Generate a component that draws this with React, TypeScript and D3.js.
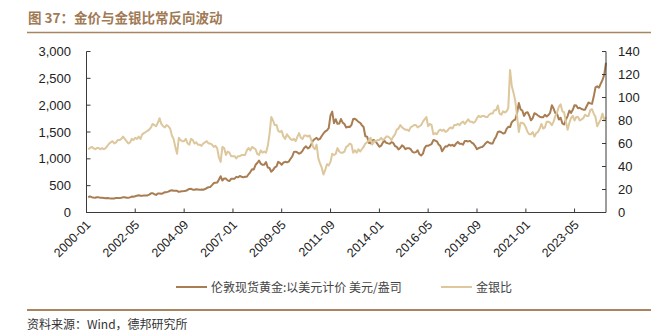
import React from "react";
import * as d3 from "d3";

// Monthly series, starting 2000-01 (month-end readings)
const startYear = 2000;

const goldPrice: number[] = [
  // 2000
  284, 300, 286, 280, 275, 285, 282, 275, 273, 270, 266, 272,
  // 2001
  266, 262, 263, 261, 272, 270, 268, 273, 283, 283, 276, 276,
  // 2002
  282, 296, 294, 302, 314, 321, 313, 310, 319, 317, 319, 333,
  // 2003
  357, 359, 340, 328, 355, 356, 351, 360, 379, 379, 389, 407,
  // 2004
  414, 405, 406, 404, 384, 392, 398, 400, 406, 420, 439, 442,
  // 2005
  424, 423, 434, 429, 422, 430, 424, 437, 456, 470, 476, 510,
  // 2006
  549, 555, 557, 610, 676, 596, 633, 632, 598, 585, 627, 629,
  // 2007
  631, 664, 655, 679, 667, 655, 665, 665, 712, 754, 806, 803,
  // 2008
  889, 922, 968, 909, 888, 889, 939, 839, 829, 760, 790, 840,
  // 2009
  858, 943, 924, 890, 928, 945, 934, 949, 996, 1043, 1127, 1134,
  // 2010
  1118, 1095, 1113, 1149, 1205, 1232, 1193, 1215, 1271, 1343, 1370, 1391,
  // 2011
  1356, 1372, 1424, 1473, 1510, 1529, 1572, 1810, 1880, 1665, 1739, 1652,
  // 2012
  1656, 1742, 1674, 1650, 1585, 1596, 1594, 1630, 1744, 1747, 1721, 1688,
  // 2013
  1671, 1627, 1593, 1420, 1414, 1300, 1287, 1347, 1349, 1316, 1275, 1225,
  // 2014
  1244, 1300, 1336, 1299, 1288, 1279, 1311, 1296, 1239, 1222, 1176, 1202,
  // 2015
  1251, 1227, 1179, 1198, 1199, 1181, 1131, 1117, 1125, 1159, 1086, 1062,
  // 2016
  1097, 1200, 1246, 1242, 1260, 1276, 1350, 1341, 1326, 1266, 1238, 1140,
  // 2017
  1192, 1234, 1231, 1266, 1246, 1260, 1236, 1283, 1315, 1280, 1283, 1265,
  // 2018
  1331, 1331, 1325, 1335, 1303, 1282, 1238, 1180, 1198, 1215, 1221, 1250,
  // 2019
  1291, 1320, 1301, 1286, 1284, 1359, 1413, 1500, 1510, 1495, 1471, 1480,
  // 2020
  1560, 1597, 1591, 1683, 1715, 1732, 1847, 2040, 1922, 1900, 1800, 1858,
  // 2021
  1867, 1808, 1718, 1760, 1850, 1834, 1807, 1785, 1775, 1777, 1821, 1790,
  // 2022
  1817, 1856, 2000, 1937, 1849, 1837, 1733, 1765, 1660, 1640, 1726, 1797,
  // 2023
  1898, 1855, 1913, 2000, 1992, 1943, 1950, 1929, 1916, 1916, 1985, 2050,
  // 2024
  2034, 2023, 2160, 2330, 2350, 2325, 2400, 2470, 2570, 2790,
];

const goldSilverRatio: number[] = [
  // 2000
  55, 56, 57, 56, 55, 56, 56, 55, 56, 55, 56, 58,
  // 2001
  60, 61, 62, 60, 61, 63, 63, 64, 66, 64, 62, 60,
  // 2002
  61, 64, 63, 65, 64, 66, 64, 68, 69, 70, 71, 72,
  // 2003
  74, 77, 76, 75, 78, 82, 77, 75, 74, 76, 75, 73,
  // 2004
  67, 64, 57, 51, 65, 63, 62, 62, 64, 60, 59, 64,
  // 2005
  63, 60, 61, 59, 59, 58, 60, 61, 62, 60, 60, 59,
  // 2006
  57, 58, 56, 48, 44, 57, 56, 50, 53, 52, 49, 49,
  // 2007
  49, 47, 49, 49, 50, 50, 50, 54, 56, 54, 57, 56,
  // 2008
  55, 51, 50, 54, 52, 53, 52, 58, 68, 83, 80, 76,
  // 2009
  76, 71, 70, 71, 66, 64, 68, 66, 64, 63, 64, 62,
  // 2010
  66, 69, 65, 64, 67, 67, 66, 67, 63, 57, 55, 59,
  // 2011
  47, 43, 39, 33, 37, 42, 41, 44, 51, 50, 51, 56,
  // 2012
  53, 52, 52, 53, 57, 58, 60, 59, 52, 54, 52, 55,
  // 2013
  53, 55, 57, 60, 61, 63, 65, 59, 62, 62, 63, 63,
  // 2014
  65, 63, 64, 66, 66, 65, 63, 66, 68, 72, 73, 76,
  // 2015
  74, 73, 72, 72, 71, 74, 75, 76, 76, 74, 75, 76,
  // 2016
  79, 81, 83, 75, 77, 76, 68, 69, 68, 71, 72, 71,
  // 2017
  72, 70, 71, 73, 74, 73, 76, 76, 77, 76, 78, 79,
  // 2018
  77, 79, 81, 79, 79, 78, 79, 82, 84, 83, 84, 84,
  // 2019
  83, 83, 85, 86, 86, 89, 89, 93, 86, 85, 88, 87,
  // 2020
  88, 91, 124, 110, 104, 97, 84, 70, 78, 78, 77, 74,
  // 2021
  70, 68, 68, 70, 66, 69, 70, 73, 77, 73, 74, 79,
  // 2022
  79, 78, 76, 79, 84, 87, 92, 94, 88, 87, 79, 72,
  // 2023
  78, 82, 84, 80, 83, 83, 80, 81, 82, 85, 84, 84,
  // 2024
  89, 90, 86, 83, 75, 78, 81, 86, 80, 83,
];

const xTickLabels = [
  "2000-01", "2002-05", "2004-09", "2007-01", "2009-05", "2011-09",
  "2014-01", "2016-05", "2018-09", "2021-01", "2023-05",
];
const leftTicks = [0, 500, 1000, 1500, 2000, 2500, 3000];
const rightTicks = [0, 20, 40, 60, 80, 100, 120, 140];

const title = "图 37：金价与金银比常反向波动";
const seriesNames = ["伦敦现货黄金:以美元计价 美元/盎司", "金银比"];
const source = "资料来源：Wind，德邦研究所";

const W = 652;
const H = 333;
const plot = { left: 86.5, right: 606, top: 51.5, bottom: 212.5 };

const goldColor = "#A97D52";
const ratioColor = "#DDC79C";
const brown = "#A9855F";
const cjk = "'Noto Sans CJK SC', 'Noto Sans', sans-serif";
const latin = "'Liberation Sans', Arial, sans-serif";

export default function App() {
  const parse = d3.timeParse("%Y-%m");
  const monthEnd = (i: number) =>
    d3.timeDay.offset(d3.timeMonth.offset(new Date(startYear, 0, 1), i + 1), -1);

  const x = d3
    .scaleTime()
    .domain([new Date(startYear, 0, 1), monthEnd(goldPrice.length - 1)])
    .range([plot.left, plot.right]);
  const yL = d3.scaleLinear().domain([0, 3000]).range([plot.bottom, plot.top]);
  const yR = d3.scaleLinear().domain([0, 140]).range([plot.bottom, plot.top]);

  const goldLine = d3
    .line<number>()
    .x((_, i) => x(monthEnd(i)))
    .y((d) => yL(d));
  const ratioLine = d3
    .line<number>()
    .x((_, i) => x(monthEnd(i)))
    .y((d) => yR(d));

  const axisColor = "#3a3a3a";

  return (
    <svg
      width={W}
      height={H}
      style={{ position: "absolute", left: 0, top: 0, background: "#fff" }}
    >
      {/* title */}
      <text x={28} y={23} fontFamily={cjk} fontSize={13.5} fontWeight="bold" fill="#9F7A55">
        {title}
      </text>
      <line x1={27} x2={651} y1={32.5} y2={32.5} stroke={brown} strokeWidth={1.5} />

      {/* lines */}
      <path d={goldLine(goldPrice) || ""} fill="none" stroke={goldColor} strokeWidth={2} strokeLinejoin="round" />
      <path d={ratioLine(goldSilverRatio) || ""} fill="none" stroke={ratioColor} strokeWidth={2} strokeLinejoin="round" />

      {/* axes */}
      <line x1={plot.left} x2={plot.left} y1={plot.top} y2={plot.bottom} stroke={axisColor} strokeWidth={1} />
      <line x1={plot.right} x2={plot.right} y1={plot.top} y2={plot.bottom} stroke={axisColor} strokeWidth={1} />
      <line x1={plot.left} x2={plot.right} y1={plot.bottom} y2={plot.bottom} stroke={axisColor} strokeWidth={1} />

      {leftTicks.map((t) => (
        <g key={"l" + t}>
          <line x1={plot.left} x2={plot.left + 4} y1={yL(t)} y2={yL(t)} stroke={axisColor} />
          <text x={71} y={yL(t) + 4.5} textAnchor="end" fontFamily={latin} fontSize={13} fill="#222">
            {d3.format(",")(t)}
          </text>
        </g>
      ))}
      {rightTicks.map((t) => (
        <g key={"r" + t}>
          <line x1={plot.right - 4} x2={plot.right} y1={yR(t)} y2={yR(t)} stroke={axisColor} />
          <text x={618} y={yR(t) + 4.5} textAnchor="start" fontFamily={latin} fontSize={13} fill="#222">
            {t}
          </text>
        </g>
      ))}
      {xTickLabels.map((lab) => {
        const xp = x(parse(lab) as Date);
        return (
          <g key={lab}>
            <line x1={xp} x2={xp} y1={plot.bottom} y2={plot.bottom - 4} stroke={axisColor} />
            <text
              transform={`translate(${xp + 5},${plot.bottom + 13}) rotate(-45)`}
              textAnchor="end"
              fontFamily={latin}
              fontSize={12.5}
              fill="#222"
            >
              {lab}
            </text>
          </g>
        );
      })}

      {/* legend */}
      <line x1={176} x2={207} y1={287} y2={287} stroke={goldColor} strokeWidth={2} />
      <text x={211} y={291.5} fontFamily={cjk} fontSize={12} fill="#444">
        {seriesNames[0]}
      </text>
      <line x1={441} x2={472} y1={287} y2={287} stroke={ratioColor} strokeWidth={2} />
      <text x={476} y={291.5} fontFamily={cjk} fontSize={12} fill="#444">
        {seriesNames[1]}
      </text>

      {/* footer */}
      <line x1={27} x2={651} y1={310} y2={310} stroke={brown} strokeWidth={2} />
      <text x={27} y={329} fontFamily={cjk} fontSize={12} fill="#333">
        {source}
      </text>
    </svg>
  );
}
